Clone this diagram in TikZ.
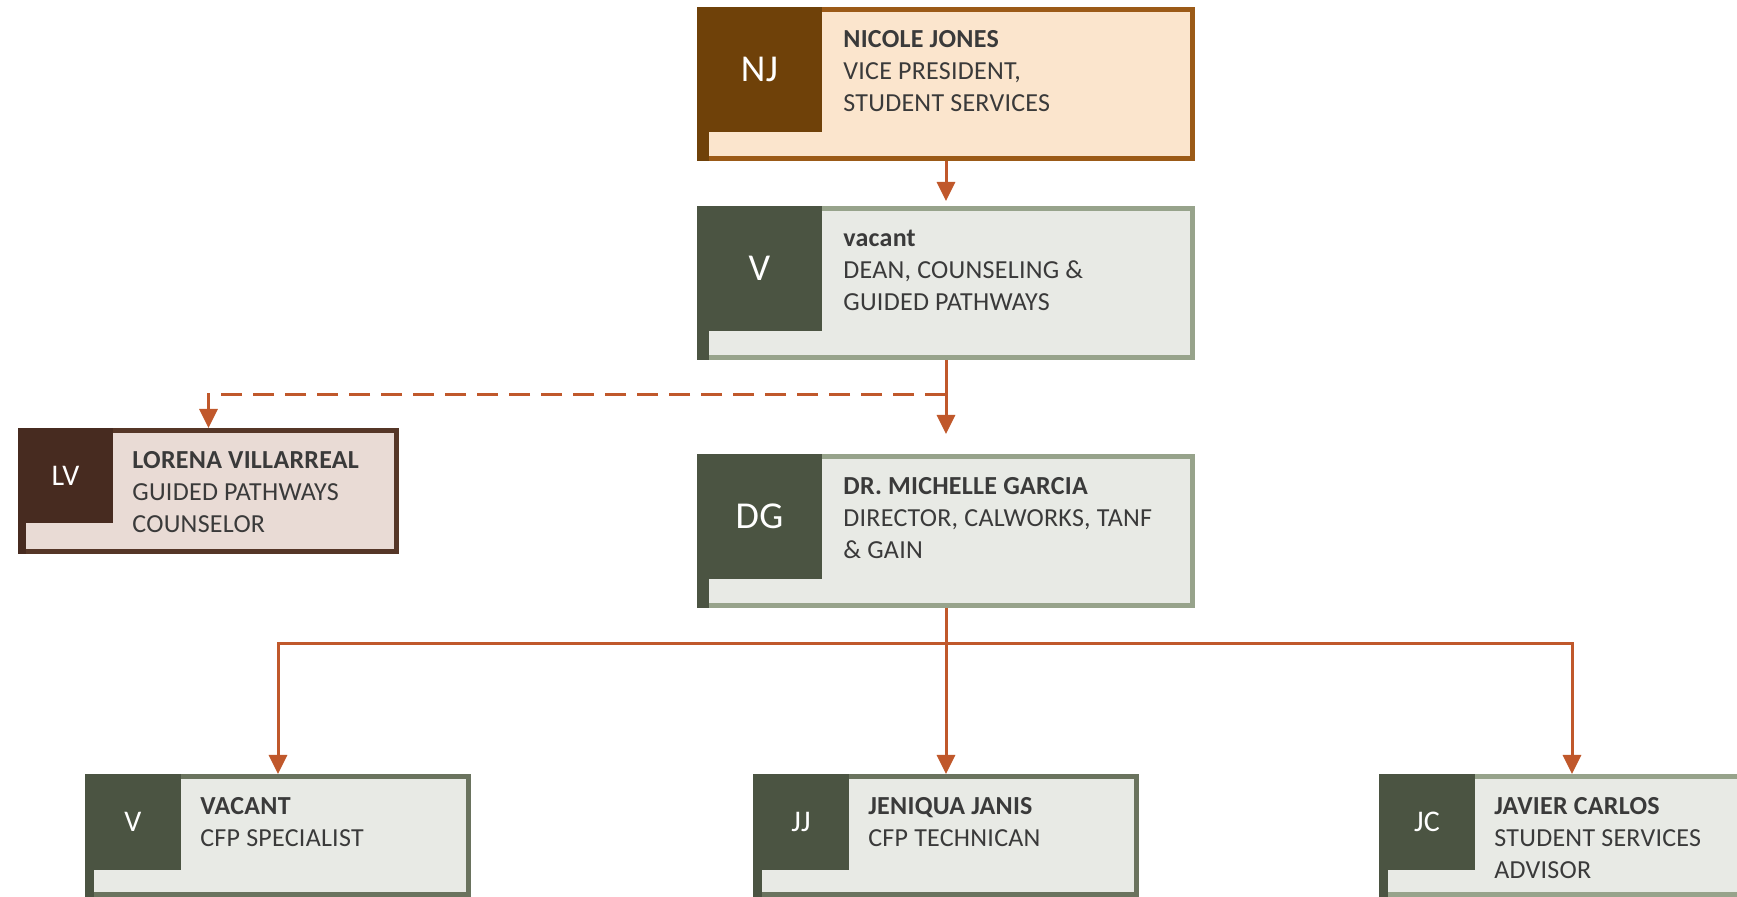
\documentclass[tikz,border=0pt]{standalone}
\usepackage{fontspec}
\setmainfont{Carlito}[LetterSpace=1.0]
\usetikzlibrary{arrows.meta}

\definecolor{njline}{HTML}{9B5A17}
\definecolor{njfill}{HTML}{FBE5CD}
\definecolor{njdark}{HTML}{6F4109}
\definecolor{sageline}{HTML}{97A38B}
\definecolor{deepline}{HTML}{6A735E}
\definecolor{sagefill}{HTML}{E8EAE5}
\definecolor{sagedark}{HTML}{4B5442}
\definecolor{lvline}{HTML}{553627}
\definecolor{lvfill}{HTML}{E9DBD5}
\definecolor{lvdark}{HTML}{472B20}
\definecolor{linkc}{HTML}{C0582B}
\definecolor{ink}{HTML}{3A3A3A}

\newcommand{\who}[1]{\rule{0pt}{10pt}\textbf{#1}}

\begin{document}
\begin{tikzpicture}[x=0.5pt, y=-0.5pt,
    card/.style={draw, line width=2.5pt, outer sep=1.25pt, inner sep=0pt, anchor=north west},
    bigcard/.style={card, minimum width=246.5pt, minimum height=74.5pt},
    smallcard/.style={card, minimum width=190.5pt, minimum height=59pt},
    badge/.style={anchor=north west, inner sep=0pt, outer sep=0pt, text=white},
    bigbadge/.style={badge, minimum size=62.5pt, font=\fontsize{19}{22}\selectfont},
    smallbadge/.style={badge, minimum size=48pt, font=\fontsize{15}{17}\selectfont},
    info/.style={anchor=north west, inner sep=0pt, align=left, text=ink, font=\fontsize{13}{16}\selectfont},
    link/.style={draw=linkc, line width=1.5pt, -{Triangle[width=9pt,length=9.5pt]}},
    dashlink/.style={link, dash pattern=on 10.5pt off 5.5pt}
  ]
  \useasboundingbox (0,0) rectangle (1737,897);
  \clip (0,0) rectangle (1737,897);

  % vice president
  \node[bigcard, draw=njline, fill=njfill] (nj) at (697,7) {};
  \node[bigbadge, fill=njdark] (nj-b) at (nj.north west) {NJ};
  \fill[njdark] (nj-b.south west) rectangle ([xshift=6pt]nj.south west);
  \node[info] (nj-t) at ([xshift=10.5pt,yshift=-10pt]nj-b.north east)
    {\who{NICOLE JONES}\\VICE PRESIDENT,\\STUDENT SERVICES};

  % dean
  \node[bigcard, draw=sageline, fill=sagefill] (dean) at (697,206) {};
  \node[bigbadge, fill=sagedark] (dean-b) at (dean.north west) {V};
  \fill[sagedark] (dean-b.south west) rectangle ([xshift=6pt]dean.south west);
  \node[info] (dean-t) at ([xshift=10.5pt,yshift=-10pt]dean-b.north east)
    {\who{vacant}\\DEAN, COUNSELING \&\\GUIDED PATHWAYS};

  % director
  \node[bigcard, draw=sageline, fill=sagefill] (dg) at (697,454) {};
  \node[bigbadge, fill=sagedark] (dg-b) at (dg.north west) {DG};
  \fill[sagedark] (dg-b.south west) rectangle ([xshift=6pt]dg.south west);
  \node[info] (dg-t) at ([xshift=10.5pt,yshift=-10pt]dg-b.north east)
    {\who{DR. MICHELLE GARCIA}\\DIRECTOR, CALWORKS, TANF\\\& GAIN};

  % counselor
  \node[card, draw=lvline, fill=lvfill, minimum width=188pt, minimum height=60.5pt] (lv) at (18,428) {};
  \node[badge, minimum size=47.5pt, font=\fontsize{15}{17}\selectfont, fill=lvdark] (lv-b) at (lv.north west) {LV};
  \fill[lvdark] (lv-b.south west) rectangle ([xshift=4pt]lv.south west);
  \node[info] (lv-t) at ([xshift=9.5pt,yshift=-10pt]lv-b.north east)
    {\who{LORENA VILLARREAL}\\GUIDED PATHWAYS\\COUNSELOR};

  % staff row
  \node[smallcard, draw=deepline, fill=sagefill] (vc) at (85,774) {};
  \node[smallbadge, fill=sagedark] (vc-b) at (vc.north west) {V};
  \fill[sagedark] (vc-b.south west) rectangle ([xshift=4.5pt]vc.south west);
  \node[info] (vc-t) at ([xshift=9.5pt,yshift=-10pt]vc-b.north east)
    {\who{VACANT}\\CFP SPECIALIST};

  \node[smallcard, draw=deepline, fill=sagefill] (jj) at (753,774) {};
  \node[smallbadge, fill=sagedark] (jj-b) at (jj.north west) {JJ};
  \fill[sagedark] (jj-b.south west) rectangle ([xshift=4.5pt]jj.south west);
  \node[info] (jj-t) at ([xshift=9.5pt,yshift=-10pt]jj-b.north east)
    {\who{JENIQUA JANIS}\\CFP TECHNICAN};

  \node[smallcard, draw=sageline, fill=sagefill] (jc) at (1379,774) {};
  \node[smallbadge, fill=sagedark] (jc-b) at (jc.north west) {JC};
  \fill[sagedark] (jc-b.south west) rectangle ([xshift=4.5pt]jc.south west);
  \node[info] (jc-t) at ([xshift=9.5pt,yshift=-10pt]jc-b.north east)
    {\who{JAVIER CARLOS}\\STUDENT SERVICES\\ADVISOR};

  % reporting lines
  \coordinate (fork) at (dean.south |- 0,395);
  \coordinate (bus) at (dg.south |- 0,644);
  \draw[link, shorten >=2.5pt] (nj.south) -- (dean.north);
  \draw[link, shorten >=10pt] (dean.south) -- (dg.north);
  \draw[dashlink] (fork) -| (lv.north);
  \draw[link] (dg.south) -- (dg.south |- jj.north);
  \draw[link] (bus) -| (vc.north);
  \draw[link] (bus) -| (jc.north);
\end{tikzpicture}
\end{document}
